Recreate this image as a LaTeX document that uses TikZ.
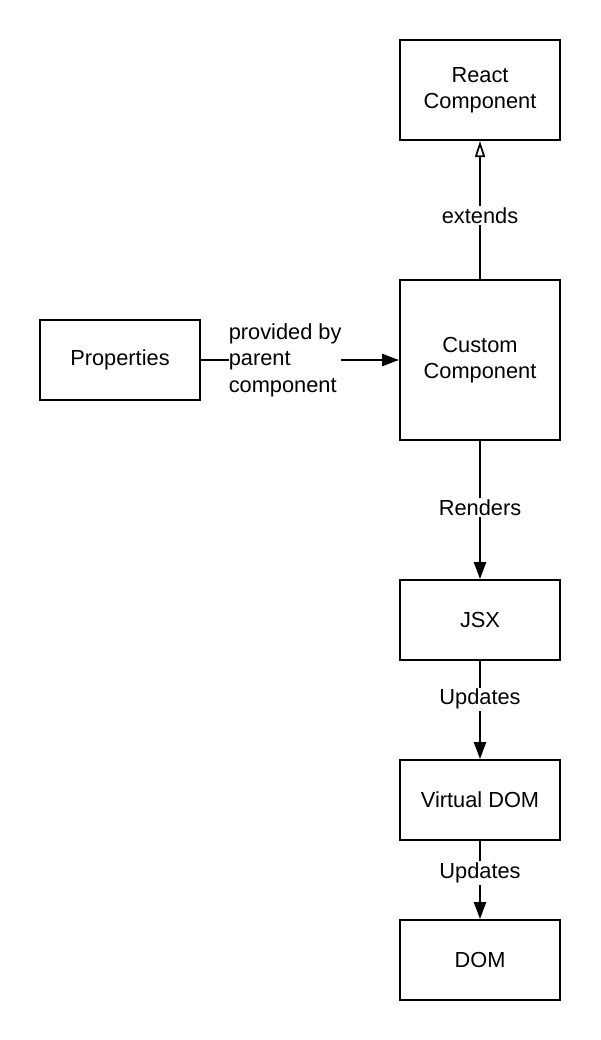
\documentclass[tikz,border=0pt]{standalone}
\usepackage{fontspec}
\setmainfont{Liberation Sans}
\usetikzlibrary{arrows.meta}

\tikzset{
  box/.style={draw, line width=1.4pt, minimum width=4cm, minimum height=2cm, align=center},
  bigbox/.style={box, minimum height=4cm},
  topbox/.style={box, minimum height=2.5cm},
  conn/.style={line width=1.4pt, -{Triangle[length=0.42cm, width=0.3cm]}},
  inherit/.style={line width=1.4pt, -{Triangle[open, length=0.4cm, width=0.25cm, line width=1.2pt]}},
  lbl/.style={fill=white, inner sep=1pt, align=left}
}

\begin{document}
\begin{tikzpicture}[x=0.025cm, y=-0.025cm, font=\fontsize{15.5pt}{18.8pt}\selectfont]
\useasboundingbox (0,0) rectangle (600,1040);
% boxes
\node[topbox] (react) at (480,90) {React\\Component};
\node[bigbox] (custom) at (480,360) {Custom\\Component};
\node[box] (props) at (120,360) {Properties};
\node[box] (jsx) at (480,620) {JSX};
\node[box] (vdom) at (480,800) {Virtual DOM};
\node[box] (dom) at (480,960) {DOM};
% connectors
\draw[inherit] (custom) -- node[lbl, pos=0.46] {extends} (react);
\draw[conn] (props) -- node[lbl, pos=0.425, inner sep=0pt] {provided by\\parent\\component} (custom);
\draw[conn] (custom) -- node[lbl, pos=0.48] {Renders} (jsx);
\draw[conn] (jsx) -- node[lbl, pos=0.39] {Updates} (vdom);
\draw[conn] (vdom) -- node[lbl, pos=0.41] {Updates} (dom);
\end{tikzpicture}
\end{document}
